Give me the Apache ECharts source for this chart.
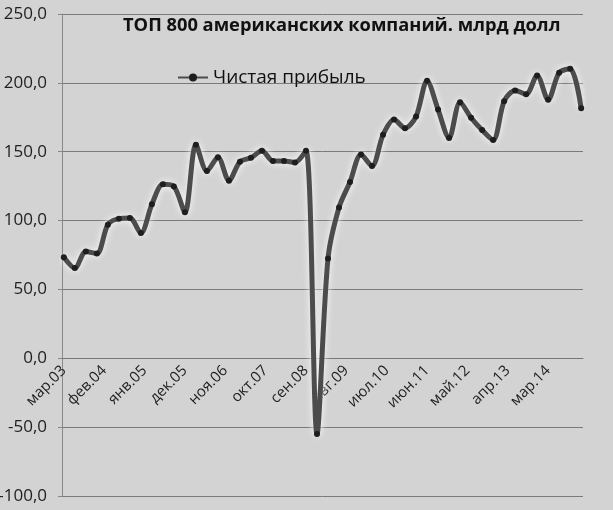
<!DOCTYPE html>
<html><head><meta charset="utf-8">
<script src="https://cdn.jsdelivr.net/npm/echarts@6/dist/echarts.min.js"></script>
<style>html,body{margin:0;padding:0;background:#d3d3d3}#c{width:613px;height:510px}</style>
</head><body><div id="c"></div>
<script>
// Monthly category axis (date axis in the original), Mar 2003 .. Dec 2014
const monthNames = ['янв','фев','мар','апр','май','июн','июл','авг','сен','окт','ноя','дек'];
const firstYear = 2003, firstMonth = 2, lastYear = 2014, lastMonth = 11;
const categories = [];
for (let y = firstYear; y <= lastYear; y++) {
  for (let m = 0; m < 12; m++) {
    if (y === firstYear && m < firstMonth) continue;
    if (y === lastYear && m > lastMonth) continue;
    categories.push(monthNames[m] + '.' + String(y % 100).padStart(2, '0'));
  }
}
// Quarterly net profit (Mar, Jun, Sep, Dec), bn USD
const profit = [
  73.3, 65.5, 77.6, 76.0,
  97.0, 101.4, 101.8, 90.9,
  111.8, 126.3, 124.8, 106.0,
  155.0, 136.0, 146.0, 129.0,
  142.7, 145.6, 150.7, 143.2,
  143.2, 142.2, 150.7, -55.0,
  72.5, 109.5, 128.0, 148.0,
  139.6, 162.3, 173.4, 167.1,
  175.6, 201.5, 180.6, 160.0,
  186.0, 174.7, 165.7, 158.5,
  186.7, 194.5, 191.8, 205.4,
  187.7, 207.4, 210.2, 181.5
];
const yTicks = { min: -100, max: 250, step: 50 };
const seriesName = 'Чистая прибыль';
const titleText = 'ТОП 800 американских компаний. млрд долл';

const points = profit.map((v, i) => [categories[i * 3], v]);

const W = 613, H = 510, gTop = 14, gBottom = 14;
const plotH = H - gTop - gBottom;
// place the category axis on the value 0 line
const zeroOffset = -plotH * (0 - yTicks.min) / (yTicks.max - yTicks.min);

const chart = echarts.init(document.getElementById('c'));
chart.setOption({
  backgroundColor: '#d3d3d3',
  animation: false,
  title: {
    text: titleText, left: 118, top: 12,
    textStyle: { fontFamily: 'Open Sans', fontWeight: 'bold', fontSize: 18.3, color: '#111' }
  },
  legend: {
    data: [seriesName], left: 172, top: 63, itemWidth: 30, itemHeight: 10, itemGap: 3,
    textStyle: { fontFamily: 'Open Sans', fontSize: 19, color: '#111' }
  },
  grid: { left: 62, right: 30, top: gTop, bottom: gBottom, containLabel: false, outerBoundsMode: 'none' },
  xAxis: {
    type: 'category', data: categories, boundaryGap: true, offset: zeroOffset,
    axisLine: { onZero: false, lineStyle: { color: '#777', width: 1 } },
    axisTick: { interval: 10, length: 5, lineStyle: { color: '#777' } },
    axisLabel: { interval: 10, rotate: 45, fontFamily: 'Open Sans', fontSize: 15, color: '#222', margin: 10 },
    splitLine: { show: false }
  },
  yAxis: {
    type: 'value', min: yTicks.min, max: yTicks.max, interval: yTicks.step,
    axisLine: { show: true, lineStyle: { color: '#888' } },
    axisTick: { show: true, length: 4, lineStyle: { color: '#888' } },
    axisLabel: {
      fontFamily: 'Open Sans', fontSize: 17, color: '#222', margin: 15,
      formatter: v => v.toFixed(1).replace('.', ',')
    },
    splitLine: { lineStyle: { color: '#7a7a7a', width: 1 } }
  },
  series: [{
    name: seriesName, type: 'line', data: points, smooth: 0.3,
    symbol: 'circle', symbolSize: 6, showAllSymbol: true,
    itemStyle: { color: '#1e1e1e', borderWidth: 0 },
    lineStyle: { color: '#4c4c4c', width: 5, shadowColor: 'rgba(255,255,255,0.95)', shadowBlur: 7 }
  }]
});
</script></body></html>
